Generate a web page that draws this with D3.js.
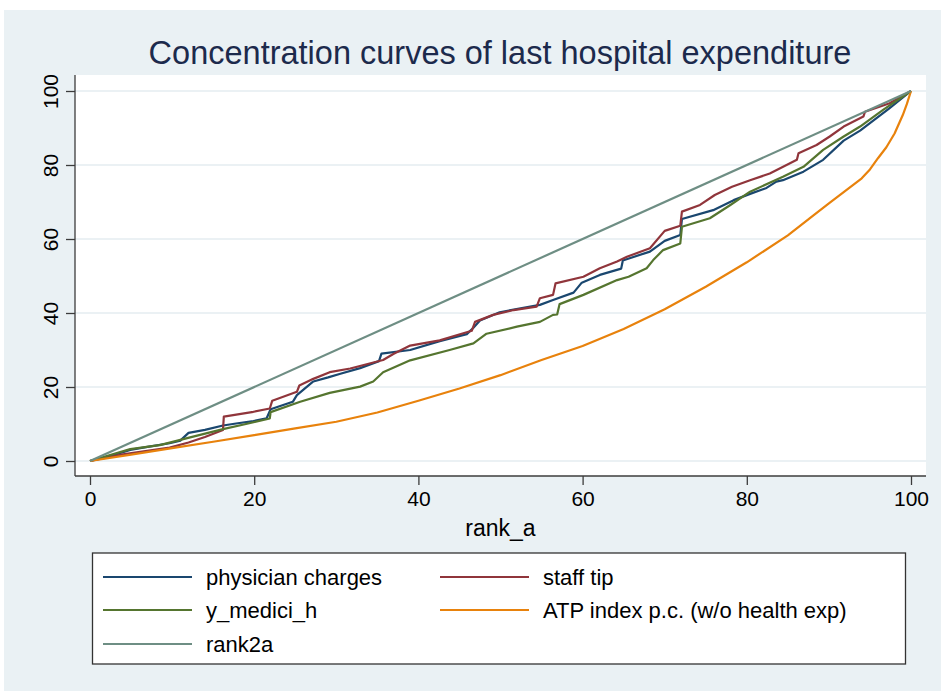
<!DOCTYPE html>
<html>
<head>
<meta charset="utf-8">
<script src="https://cdn.jsdelivr.net/npm/d3@7"></script>
<style>
  html, body { margin: 0; padding: 0; background: #fff; }
  svg { display: block; }
  text { font-family: "Liberation Sans", Arial, Helvetica, sans-serif; }
</style>
</head>
<body>
<div id="chart"></div>
<script>
// values (x = rank_a, y = cumulative share)
var physicianCharges = [[0,0],[2,1.0],[4.9,3.0],[7,3.8],[9.7,4.8],[11,5.5],[12,7.6],[14,8.4],[16.2,9.6],[18,10.2],[19.9,10.8],[21.5,11.5],[22,14.0],[24.7,16.0],[25.2,17.8],[27.2,21.5],[29,22.6],[30.5,23.6],[32.9,25.1],[35.2,27.0],[35.5,29.0],[39,30.0],[42.6,32.4],[45.9,34.3],[46.7,36.0],[47.5,38.0],[49.9,40.2],[54.8,42.2],[56.4,43.5],[58.9,45.5],[59.9,48.2],[62.1,50.3],[64.7,52.0],[64.9,54.2],[68.2,56.6],[70,59.5],[71.9,61.1],[72.1,65.4],[75.9,67.8],[78.4,70.5],[80.4,72.2],[82.4,73.8],[83.6,75.5],[84.4,75.9],[86.9,78.2],[89.3,81.4],[91.8,86.6],[93.8,89.3],[97.4,95.4],[100,100]];
var staffTip = [[0,0],[4,1.8],[9.7,3.6],[12,5.0],[14,6.5],[16.2,8.4],[16.3,12.0],[19.9,13.3],[21.9,14.2],[22.2,16.3],[25.2,18.7],[25.5,20.4],[27.2,22.2],[29.2,24.0],[31.7,25.0],[35.7,27.3],[37,29],[39,31.2],[42.6,32.6],[46.5,35.2],[46.9,37.6],[49.1,39.5],[51.6,40.8],[54.4,41.7],[54.8,44.0],[56.4,44.9],[56.7,48.0],[60.1,49.8],[62.1,52.1],[64.2,53.9],[65.4,55.2],[68.2,57.5],[70,62.2],[71.9,63.6],[72.1,67.4],[74.3,69.2],[76.1,71.9],[78.2,74.1],[80.4,75.9],[82.8,77.7],[86.1,81.4],[86.3,83.2],[88.5,85.4],[90.1,87.7],[91.8,90.4],[94.2,93.1],[94.4,94.4],[97.4,96.7],[100,100]];
var yMediciH = [[0,0],[4.9,3.2],[8.5,4.3],[12.2,6.4],[16.2,8.6],[19,10],[21.9,11.5],[22,13.2],[25.6,16.0],[29.2,18.4],[32.9,20.1],[34.5,21.5],[35.7,24.0],[39,27.2],[43.8,30.0],[46.7,31.8],[48.3,34.4],[52,36.3],[54.8,37.6],[56.4,39.5],[56.9,39.6],[57.2,42.4],[60.1,44.9],[64.2,48.9],[65.6,49.8],[67.8,52.1],[68.6,54.3],[69.8,57.0],[71.9,58.8],[72.1,63.3],[75.5,65.6],[78,69.2],[80.4,72.8],[84.4,76.8],[86.9,79.5],[89.3,84.1],[91.8,87.7],[93.8,90.4],[96.6,94.9],[100,100]];
var atpIndex = [[0,0],[5,1.7],[10,3.5],[15,5.2],[20,7.0],[25,8.8],[30,10.6],[35,13.1],[40,16.3],[45,19.6],[50,23.2],[55,27.3],[60,31.1],[65,35.7],[70,41.0],[75,47.1],[80,53.7],[85,61.0],[88,66.2],[90,69.6],[92,73.0],[94,76.4],[95,78.8],[96,81.9],[97,84.8],[98,88.5],[99,93.5],[99.5,96.5],[100,100]];
var rank2a = [[0,0],[100,100]];

var xTicks = [0, 20, 40, 60, 80, 100];
var yTicks = [0, 20, 40, 60, 80, 100];
var seriesNames = ["physician charges", "staff tip", "y_medici_h", "ATP index p.c. (w/o health exp)", "rank2a"];
var seriesColors = ["#1a476f", "#90353b", "#55752f", "#e8820c", "#6e8e84"];

var W = 941, H = 691;
var plot = {left: 75, right: 926, top: 75, bottom: 476};

var svg = d3.select("#chart").append("svg")
  .attr("width", W)
  .attr("height", H);

// graph region
svg.append("rect")
  .attr("x", 4).attr("y", 10)
  .attr("width", W - 4).attr("height", H - 10)
  .attr("fill", "#eaf1f4");

svg.append("rect")
  .attr("x", plot.left).attr("y", plot.top)
  .attr("width", plot.right - plot.left).attr("height", plot.bottom - plot.top)
  .attr("fill", "#fff");

var x = d3.scaleLinear().domain([0, 100]).range([90, 911]);
var y = d3.scaleLinear().domain([0, 100]).range([461, 91]);

// grid
svg.append("g").selectAll("line")
  .data(yTicks).enter()
  .append("line")
  .attr("x1", plot.left).attr("x2", plot.right)
  .attr("y1", d => y(d)).attr("y2", d => y(d))
  .attr("stroke", "#e4edf0")
  .attr("stroke-width", 1.6);

// curves
var line = d3.line().x(d => x(d[0])).y(d => y(d[1]));
var allSeries = [physicianCharges, staffTip, yMediciH, atpIndex, rank2a];
svg.append("g").selectAll("path")
  .data(allSeries).enter()
  .append("path")
  .attr("d", line)
  .attr("fill", "none")
  .attr("stroke", (d, i) => seriesColors[i])
  .attr("stroke-width", 2.2)
  .attr("stroke-linejoin", "round");

// axes
var xAxis = svg.append("g")
  .attr("transform", "translate(0," + plot.bottom + ")")
  .call(d3.axisBottom(x).tickValues(xTicks).tickSize(9).tickPadding(6).tickSizeOuter(0));
xAxis.select(".domain").attr("d", "M" + plot.left + ",0H" + plot.right);

var yAxis = svg.append("g")
  .attr("transform", "translate(" + plot.left + ",0)")
  .call(d3.axisLeft(y).tickValues(yTicks).tickSize(9).tickSizeOuter(0));
yAxis.select(".domain").attr("d", "M0," + plot.top + "V" + plot.bottom);

svg.selectAll(".domain, .tick line")
  .attr("stroke", "#3c3c3c")
  .attr("stroke-width", 1.3);
xAxis.selectAll("text")
  .attr("font-size", 21).attr("fill", "#000")
  .attr("font-family", "Liberation Sans, Arial, sans-serif");
yAxis.selectAll("text")
  .attr("font-size", 21).attr("fill", "#000")
  .attr("font-family", "Liberation Sans, Arial, sans-serif")
  .attr("text-anchor", "middle")
  .attr("x", 0).attr("dy", 0)
  .attr("transform", "translate(-17,0) rotate(-90)");

// axis title
svg.append("text")
  .attr("x", (x(0) + x(100)) / 2)
  .attr("y", 536)
  .attr("text-anchor", "middle")
  .attr("font-size", 23)
  .text("rank_a");

// title
svg.append("text")
  .attr("x", 500)
  .attr("y", 64)
  .attr("text-anchor", "middle")
  .attr("font-size", 32.5)
  .attr("fill", "#1c2a4c")
  .text("Concentration curves of last hospital expenditure");

// legend
var legend = svg.append("g");
legend.append("rect")
  .attr("x", 92.5).attr("y", 553)
  .attr("width", 813).attr("height", 111)
  .attr("fill", "#fff")
  .attr("stroke", "#333")
  .attr("stroke-width", 1.3);

var legendCols = [103, 440];
var legendRows = [577, 610, 644];
var items = legend.selectAll("g.item")
  .data(seriesNames).enter()
  .append("g")
  .attr("class", "item")
  .attr("transform", (d, i) => "translate(" + legendCols[i % 2] + "," + legendRows[Math.floor(i / 2)] + ")");
items.append("line")
  .attr("x1", 0).attr("x2", 89)
  .attr("y1", 0).attr("y2", 0)
  .attr("stroke", (d, i) => seriesColors[i])
  .attr("stroke-width", 2.2);
items.append("text")
  .attr("x", 103)
  .attr("y", 8)
  .attr("font-size", 22)
  .attr("fill", "#000")
  .text(d => d);
</script>
</body>
</html>
